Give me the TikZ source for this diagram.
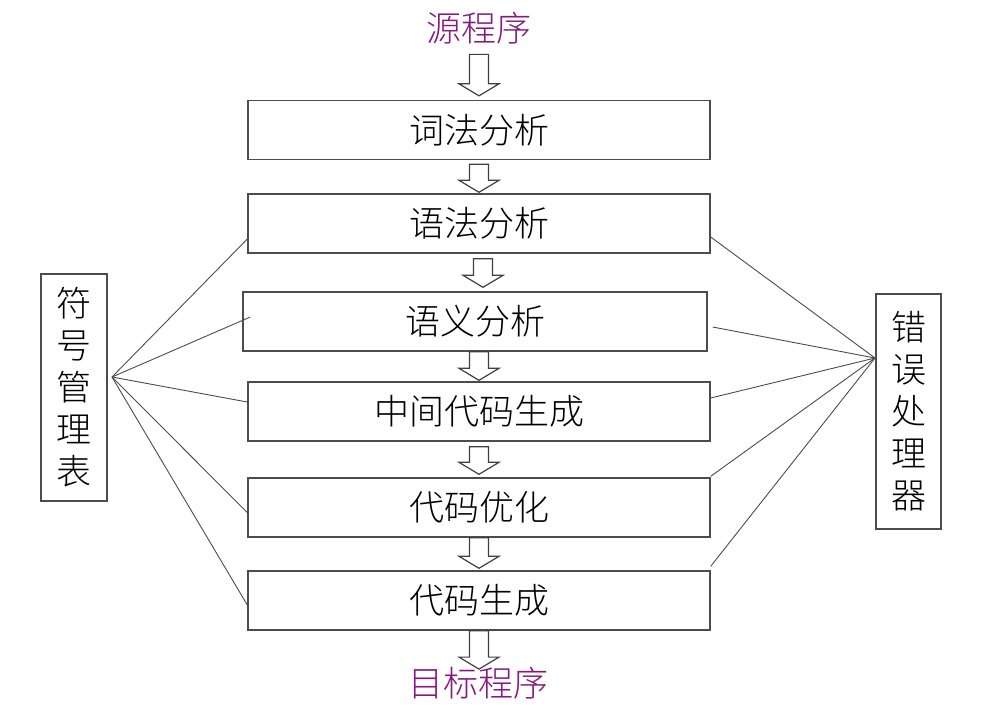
\documentclass[tikz,border=0pt]{standalone}
\usepackage{fontspec}
\newfontfamily\cjk{Noto Sans CJK SC}[UprightFont=* Light]
\usetikzlibrary{calc}
\definecolor{titlepurple}{RGB}{134,24,128}
\tikzset{
  stage/.style={draw=black!70, line width=0.7pt, minimum width=231pt, minimum height=29.5pt, inner sep=0pt, font=\cjk\fontsize{17.5}{21}\selectfont},
  sidebox/.style={draw=black!70, line width=0.7pt, align=center, inner sep=0pt, font=\cjk\fontsize{17.5}{21}\selectfont},
  endlabel/.style={text=titlepurple, inner sep=0pt, font=\cjk\fontsize{17.5}{21}\selectfont},
  link/.style={draw=black!70, line width=0.45pt}
}
% hollow block arrow from #1 down to the tip #2
\newcommand{\hollowarrow}[2]{%
  \draw[black!75, line width=0.6pt, fill=white] let \p1=(#1), \p2=(#2) in
    (\x1-4.75pt,\y1) -- (\x1-4.75pt,\y2+6pt) -- (\x1-10pt,\y2+6pt) -- (\x1,\y2)
    -- (\x1+10pt,\y2+6pt) -- (\x1+4.75pt,\y2+6pt) -- (\x1+4.75pt,\y1) -- cycle;}
\begin{document}
\begin{tikzpicture}[x=0.5pt, y=-0.5pt]
\useasboundingbox (0,0) rectangle (981,725);
\node[endlabel] (src) at (479,28) {源程序};
\node[stage] (lex) at (479,130) {词法分析};
\node[stage] (syn) at (479,223.5) {语法分析};
\node[stage, minimum width=232pt] (sem) at (475,321.5) {语义分析};
\node[stage] (ir) at (479,411.5) {中间代码生成};
\node[stage] (opt) at (479,507.5) {代码优化};
\node[stage] (gen) at (479,600.5) {代码生成};
\node[endlabel] (dst) at (478,683) {目标程序};

\node[sidebox, minimum width=33pt, minimum height=113.5pt] (sym) at (74,387.5) {符\\号\\管\\理\\表};
\node[sidebox, minimum width=32.5pt, minimum height=117.5pt] (err) at (908.5,411.5) {错\\误\\处\\理\\器};
\coordinate (symhub) at (112,377);
\coordinate (errhub) at (875,358);

\hollowarrow{[yshift=-5pt]src.south}{[yshift=2pt]lex.north}
\hollowarrow{[yshift=-2pt]lex.south}{[yshift=0.5pt]syn.north}
\hollowarrow{[xshift=2pt, yshift=-2.5pt]syn.south}{[yshift=2pt]sem.north}
\hollowarrow{[xshift=2pt]sem.south}{[yshift=0.5pt]ir.north}
\hollowarrow{[yshift=-2.5pt]ir.south}{[yshift=1.5pt]opt.north}
\hollowarrow{opt.south}{[yshift=1pt]gen.north}
\hollowarrow{gen.south}{[yshift=-1.25pt]dst.north}

\draw[link] (symhub) -- ([yshift=-7.75pt]syn.west);
\draw[link] (symhub) -- ([xshift=4pt, yshift=2.25pt]sem.west);
\draw[link] (symhub) -- ([yshift=4.75pt]ir.west);
\draw[link] (symhub) -- ([yshift=-2.5pt]opt.west);
\draw[link] (symhub) -- ([yshift=-2.25pt]gen.west);

\draw[link] (errhub) -- ([yshift=-6.75pt]syn.east);
\draw[link] (errhub) -- ([xshift=2.5pt, yshift=-2.75pt]sem.east);
\draw[link] (errhub) -- ([yshift=6.75pt]ir.east);
\draw[link] (errhub) -- ([yshift=0.5pt]opt.north east);
\draw[link] (errhub) -- ([yshift=2pt]gen.north east);
\end{tikzpicture}
\end{document}
